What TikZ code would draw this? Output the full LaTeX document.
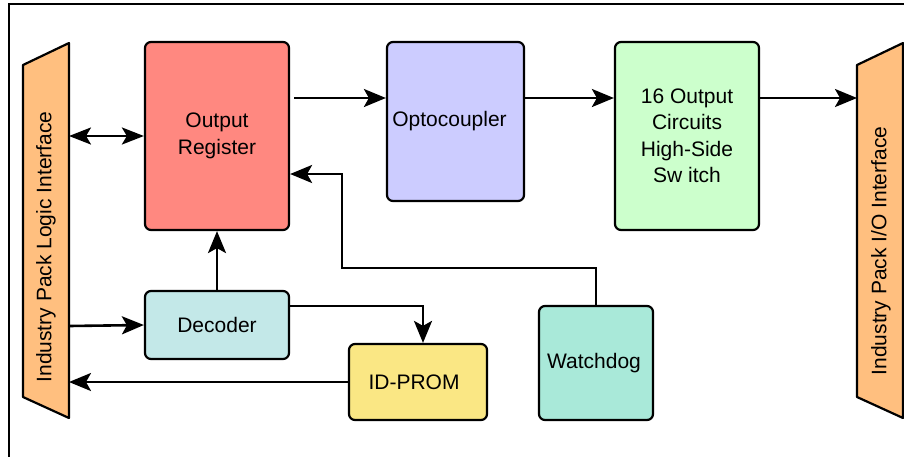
\documentclass[tikz,border=0pt]{standalone}
\usepackage{fontspec}
\setmainfont{Liberation Sans}
\usetikzlibrary{arrows.meta,calc}
\definecolor{regc}{HTML}{FF8880}
\definecolor{optc}{HTML}{CCCCFF}
\definecolor{grnc}{HTML}{CCFFCC}
\definecolor{decc}{HTML}{C3E8E8}
\definecolor{idpc}{HTML}{FAE784}
\definecolor{wdc}{HTML}{A9E9D9}
\definecolor{trapc}{HTML}{FFBF7F}
\begin{document}
\begin{tikzpicture}[x=1pt,y=1pt,
  box/.style={draw, line width=2.2pt, rounded corners=6pt, align=center, inner sep=0pt},
  lbl/.style={font=\fontsize{21}{26.5}\selectfont},
  arr/.style={line width=2.6pt, -{Stealth[length=22pt,width=18pt,inset=5pt]}},
  darr/.style={line width=2.6pt, {Stealth[length=22pt,width=17pt,inset=5pt]}-{Stealth[length=22pt,width=17pt,inset=5pt]}},
  trap/.style={draw, line width=2.2pt, fill=trapc, line join=round}]
\useasboundingbox (0,0) rectangle (904,-456);
\fill[white] (0,0) rectangle (904,-456);
\draw[line width=2.2pt] (9,-4) rectangle (915,-470);
% trapezoids
\draw[trap] (23,-65) -- (69,-43) -- (69,-418) -- (23,-397) -- cycle;
\draw[trap] (857,-65) -- (903,-43) -- (903,-418) -- (857,-397) -- cycle;
\node[lbl, rotate=90] (ltxt) at (46,-247) {Industry Pack Logic Interface};
\node[lbl, rotate=90] (rtxt) at (881,-251) {Industry Pack I/O Interface};
\coordinate (lt) at (69,-136);
\coordinate (ldec) at (69,-326);
\coordinate (lid) at (69,-382);
\coordinate (rin) at (857,-98);
\coordinate (y98) at (0,-98);
\coordinate (wdc1) at (342,-268);
% boxes
\node[box, lbl, fill=regc, minimum width=144pt, minimum height=188pt] (reg) at (217,-136) {Output\\Register};
\node[box, lbl, fill=optc, minimum width=137pt, minimum height=159pt] (opto) at (455.5,-121.5) {Optocoupler\hspace*{12pt}};
\node[box, lbl, fill=grnc, minimum width=144pt, minimum height=188pt] (grn) at (687,-136) {16 Output\\Circuits\\High-Side\\Sw itch};
\node[box, lbl, fill=decc, minimum width=144pt, minimum height=68pt] (dec) at (217,-325) {Decoder};
\node[box, lbl, fill=idpc, minimum width=138pt, minimum height=76pt] (idp) at (418,-382) {ID-PROM\hspace*{8pt}};
\node[box, lbl, fill=wdc, minimum width=114pt, minimum height=114pt] (wd) at (596,-363) {Watchdog\hspace*{4pt}};
% connectors
\draw[darr] (lt) -- (reg.west);
\draw[arr] ([xshift=4pt]reg.east |- y98) -- (opto.west |- y98);
\draw[arr] (opto.east |- y98) -- (grn.west |- y98);
\draw[arr] (grn.east |- y98) -- (rin);
\draw[arr] (dec.north) -- (reg.south);
\draw[arr] (ldec) -- (dec.west);
\draw[arr] ([yshift=19pt]dec.east) -| ([xshift=5pt]idp.north);
\draw[arr] (idp.west) -- (lid);
\draw[arr] (wd.north) |- (wdc1) |- ([yshift=-38pt]reg.east);
\end{tikzpicture}
\end{document}
